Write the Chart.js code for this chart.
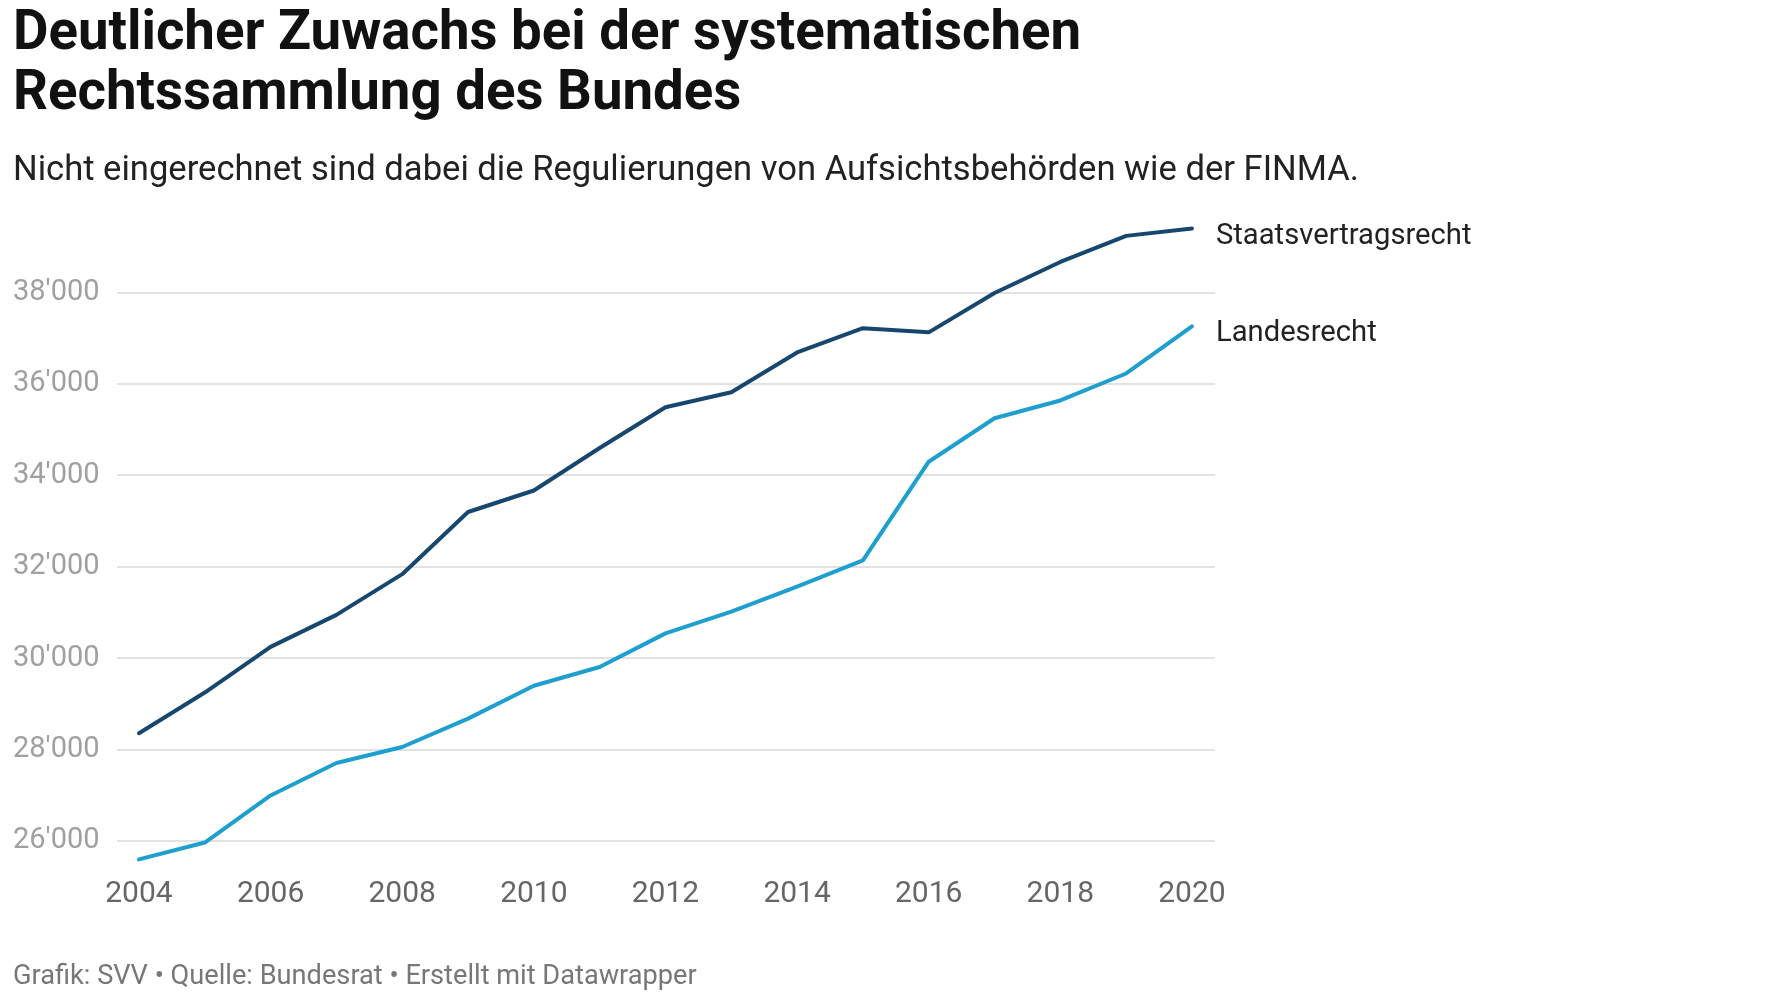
<!DOCTYPE html>
<html lang="de">
<head>
<meta charset="utf-8">
<title>Rechtssammlung des Bundes</title>
<script src="https://cdn.jsdelivr.net/npm/chart.js@4.4.1/dist/chart.umd.min.js"></script>
<style>
  html, body { margin: 0; padding: 0; background: #fff; }
  body { width: 1770px; height: 993px; position: relative; overflow: hidden; font-family: Roboto, "Noto Sans", sans-serif; }
  #chart { position: absolute; left: 0; top: 0; }
  .txt { position: absolute; left: 13px; white-space: nowrap; margin: 0; }
  #title { top: 0px; font-size: 54.6px; line-height: 60px; font-weight: 700; color: #111; }
  #subtitle { top: 148px; font-size: 34.6px; line-height: 40px; font-weight: 400; color: #222; }
  #footer { top: 955px; font-size: 27.2px; line-height: 40px; color: #777; }
</style>
</head>
<body>
<canvas id="chart" width="1770" height="993"></canvas>
<h1 class="txt" id="title">Deutlicher Zuwachs bei der systematischen<br>Rechtssammlung des Bundes</h1>
<p class="txt" id="subtitle">Nicht eingerechnet sind dabei die Regulierungen von Aufsichtsbehörden wie der FINMA.</p>
<p class="txt" id="footer">Grafik: SVV • Quelle: Bundesrat • Erstellt mit Datawrapper</p>

<script>
// =====================
// Data
// =====================
const years = [2004, 2005, 2006, 2007, 2008, 2009, 2010, 2011, 2012, 2013, 2014, 2015, 2016, 2017, 2018, 2019, 2020];
const staatsvertragsrecht = [28360, 29250, 30250, 30950, 31840, 33200, 33670, 34600, 35490, 35820, 36690, 37220, 37130, 37990, 38670, 39240, 39400];
const landesrecht = [25600, 25970, 27000, 27710, 28060, 28680, 29400, 29810, 30545, 31020, 31570, 32140, 34300, 35250, 35640, 36230, 37260];
const seriesNames = ['Staatsvertragsrecht', 'Landesrecht'];
const yTicks = [26000, 28000, 30000, 32000, 34000, 36000, 38000];
const xTicks = [2004, 2006, 2008, 2010, 2012, 2014, 2016, 2018, 2020];

const colors = ['#17476f', '#1f9fcf'];

// swiss thousands separator: 38'000
const fmt = v => String(v).replace(/\B(?=(\d{3})+(?!\d))/g, "'");

// =====================
// Line end labels
// =====================
const endLabels = {
  id: 'endLabels',
  afterDatasetsDraw(chart) {
    const ctx = chart.ctx;
    ctx.save();
    ctx.font = '29.2px Roboto';
    ctx.fillStyle = '#222';
    ctx.textBaseline = 'alphabetic';
    ctx.textAlign = 'left';
    chart.data.datasets.forEach((ds, i) => {
      const meta = chart.getDatasetMeta(i);
      const pt = meta.data[meta.data.length - 1];
      ctx.fillText(ds.label, pt.x + 24, pt.y + 15);
    });
    ctx.restore();
  }
};

const ctx = document.getElementById('chart').getContext('2d');
new Chart(ctx, {
  type: 'line',
  data: {
    datasets: [
      {
        label: seriesNames[0],
        data: years.map((y, i) => ({ x: y, y: staatsvertragsrecht[i] })),
        borderColor: colors[0],
        backgroundColor: colors[0]
      },
      {
        label: seriesNames[1],
        data: years.map((y, i) => ({ x: y, y: landesrecht[i] })),
        borderColor: colors[1],
        backgroundColor: colors[1]
      }
    ]
  },
  options: {
    responsive: false,
    devicePixelRatio: 1,
    animation: false,
    layout: { padding: { left: 13, top: 224, right: 555, bottom: 69 } },
    elements: {
      line: { borderWidth: 4, tension: 0, borderCapStyle: 'round', borderJoinStyle: 'round' },
      point: { radius: 0, hoverRadius: 0 }
    },
    plugins: {
      legend: { display: false },
      tooltip: { enabled: false }
    },
    scales: {
      x: {
        type: 'linear',
        min: 2003.666,
        max: 2020.35,
        afterBuildTicks: s => { s.ticks = xTicks.map(v => ({ value: v })); },
        afterFit: s => { s.height = 60; },
        grid: { display: false, drawTicks: false },
        border: { display: false },
        ticks: {
          padding: 12,
          color: '#666',
          font: { family: 'Roboto', size: 30 },
          maxRotation: 0,
          callback: v => String(v)
        }
      },
      y: {
        min: 25500,
        max: 39500,
        afterBuildTicks: s => { s.ticks = yTicks.map(v => ({ value: v })); },
        afterFit: s => { s.width = 104; },
        grid: { color: '#e2e2e2', lineWidth: 2, drawTicks: false },
        border: { display: false },
        ticks: {
          padding: 0,
          crossAlign: 'far',
          color: '#a0a0a0',
          font: { family: 'Roboto', size: 29 },
          callback: v => fmt(v)
        }
      }
    }
  },
  plugins: [endLabels]
});
</script>
</body>
</html>
